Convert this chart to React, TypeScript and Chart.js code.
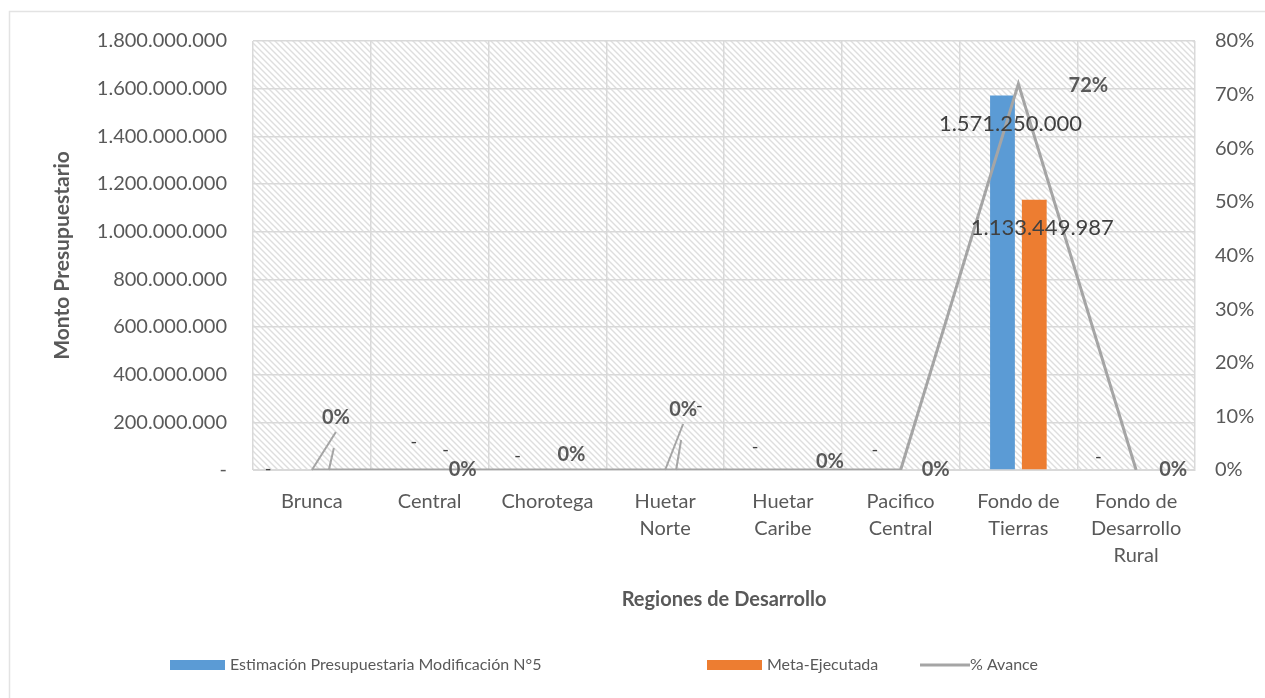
import React, { useEffect, useRef } from "react";
import { Chart, registerables } from "chart.js";

Chart.register(...registerables);

// ---------- data ----------
const categories: string[][] = [
  ["Brunca"],
  ["Central"],
  ["Chorotega"],
  ["Huetar", "Norte"],
  ["Huetar", "Caribe"],
  ["Pacifico", "Central"],
  ["Fondo de", "Tierras"],
  ["Fondo de", "Desarrollo", "Rural"],
];
const estimacion = [0, 0, 0, 0, 0, 0, 1571250000, 0];
const ejecutada = [0, 0, 0, 0, 0, 0, 1133449987, 0];
const avance = [0, 0, 0, 0, 0, 0, 0.72, 0];

const leftTickLabels = [
  "-",
  "200.000.000",
  "400.000.000",
  "600.000.000",
  "800.000.000",
  "1.000.000.000",
  "1.200.000.000",
  "1.400.000.000",
  "1.600.000.000",
  "1.800.000.000",
];
const rightTickLabels = ["0%", "10%", "20%", "30%", "40%", "50%", "60%", "70%", "80%"];

const seriesNames = ["Estimación Presupuestaria Modificación N°5", "Meta-Ejecutada", "% Avance"];
const yTitle = "Monto Presupuestario";
const xTitle = "Regiones de Desarrollo";

// ---------- style ----------
const BLUE = "#5B9BD5";
const ORANGE = "#ED7D31";
const GRAY_LINE = "#A5A5A5";
const TEXT = "#595959";
const LABEL = "#404040";
const GRID = "#D9D9D9";
const FONT = "Lato, 'Open Sans', sans-serif";

// offsets (px) of the % labels from their points, as moved in the original
const pctLabelOffsets: [number, number][] = [
  [24, -52],
  [33, 0],
  [24, -15],
  [18, -60],
  [47, -8],
  [35, 0],
  [70, 2],
  [37, 0],
];
// offsets (px) of the "-" labels of the zero-valued estimate bars
const dashOffsets: [number, number][] = [
  [-28, 5],
  [0, -22],
  [-14, -8],
  [50, -58],
  [-12, -17],
  [-10, -14],
  [0, 0],
  [-22, -7],
];
const legendStartX = [170, 707, 920];

const fmt = (n: number) => String(Math.round(n)).replace(/\B(?=(\d{3})+(?!\d))/g, ".");

export default function App() {
  const ref = useRef<HTMLCanvasElement | null>(null);

  useEffect(() => {
    document.body.style.margin = "0";
    const canvas = ref.current;
    if (!canvas) return;

    // hatch pattern
    const pc = document.createElement("canvas");
    pc.width = 6;
    pc.height = 6;
    const p = pc.getContext("2d")!;
    p.fillStyle = "#ffffff";
    p.fillRect(0, 0, 6, 6);
    p.strokeStyle = "#dedede";
    p.lineWidth = 1.4;
    p.beginPath();
    p.moveTo(-1, -1);
    p.lineTo(7, 7);
    p.moveTo(-4, 2);
    p.lineTo(4, 10);
    p.moveTo(2, -4);
    p.lineTo(10, 4);
    p.stroke();

    const bgPlugin = {
      id: "bgHatch",
      beforeDraw(chart: any) {
        const { ctx, chartArea: a } = chart;
        ctx.save();
        ctx.fillStyle = "#ffffff";
        ctx.fillRect(0, 0, chart.width, chart.height);
        // outer frame
        ctx.strokeStyle = "#e3e3e3";
        ctx.lineWidth = 1.5;
        ctx.beginPath();
        ctx.moveTo(9.5, chart.height);
        ctx.lineTo(9.5, 11.5);
        ctx.lineTo(chart.width, 11.5);
        ctx.stroke();
        const pat = ctx.createPattern(pc, "repeat");
        ctx.fillStyle = pat;
        ctx.fillRect(a.left, a.top, a.right - a.left, a.bottom - a.top);
        ctx.restore();
      },
    };

    const labelPlugin = {
      id: "labels",
      afterDatasetsDraw(chart: any) {
        const { ctx } = chart;
        ctx.save();
        ctx.textAlign = "center";
        ctx.textBaseline = "middle";
        // bar labels
        [1, 2].forEach((di) => {
          const meta = chart.getDatasetMeta(di);
          const data = chart.data.datasets[di].data as number[];
          meta.data.forEach((bar: any, i: number) => {
            const v = data[i];
            if (v > 0) {
              ctx.font = `22px ${FONT}`;
              ctx.fillStyle = LABEL;
              ctx.fillText(fmt(v), bar.x + 8, bar.y + 28);
            } else if (di === 1) {
              const [dx, dy] = dashOffsets[i];
              ctx.font = `18px ${FONT}`;
              ctx.fillStyle = LABEL;
              ctx.fillText("-", bar.x + dx, bar.y + dy - 6);
            } else if (i === 1) {
              ctx.font = `18px ${FONT}`;
              ctx.fillStyle = LABEL;
              ctx.fillText("-", bar.x, bar.y - 20);
            }
          });
        });
        // percent labels + leader lines
        const lm = chart.getDatasetMeta(0);
        ctx.strokeStyle = GRAY_LINE;
        ctx.lineWidth = 2;
        lm.data.forEach((pt: any, i: number) => {
          const [dx, dy] = pctLabelOffsets[i];
          const lx = pt.x + dx;
          const ly = pt.y + dy;
          if (dy < -30) {
            ctx.beginPath();
            ctx.moveTo(pt.x, pt.y);
            ctx.lineTo(lx, ly + 14);
            ctx.moveTo(lx - 7, pt.y);
            ctx.lineTo(lx - 2, ly + 30);
            ctx.stroke();
          }
          ctx.font = `bold 20px ${FONT}`;
          ctx.fillStyle = "#595959";
          ctx.fillText(`${Math.round((avance[i] as number) * 100)}%`, lx, ly);
        });
        ctx.restore();
      },
      afterDraw(chart: any) {
        const { ctx } = chart;
        const y = 665;
        ctx.save();
        ctx.font = `16px ${FONT}`;
        ctx.textBaseline = "middle";
        ctx.textAlign = "left";
        ctx.fillStyle = BLUE;
        ctx.fillRect(legendStartX[0], y - 5, 55, 10);
        ctx.fillStyle = TEXT;
        ctx.fillText(seriesNames[0], legendStartX[0] + 60, y);
        ctx.fillStyle = ORANGE;
        ctx.fillRect(legendStartX[1], y - 5, 55, 10);
        ctx.fillStyle = TEXT;
        ctx.fillText(seriesNames[1], legendStartX[1] + 60, y);
        ctx.strokeStyle = GRAY_LINE;
        ctx.lineWidth = 3;
        ctx.beginPath();
        ctx.moveTo(legendStartX[2], y);
        ctx.lineTo(legendStartX[2] + 50, y);
        ctx.stroke();
        ctx.fillText(seriesNames[2], legendStartX[2] + 50, y);
        ctx.restore();
      },
    };

    const chart = new Chart(canvas, {
      type: "bar",
      data: {
        labels: categories,
        datasets: [
          {
            type: "line",
            label: seriesNames[2],
            data: avance,
            yAxisID: "y1",
            borderColor: GRAY_LINE,
            borderWidth: 3,
            pointRadius: 0,
            tension: 0,
            order: 0,
          } as any,
          {
            type: "bar",
            label: seriesNames[0],
            data: estimacion,
            yAxisID: "y",
            backgroundColor: BLUE,
            categoryPercentage: 0.54,
            barPercentage: 0.78,
            order: 1,
          },
          {
            type: "bar",
            label: seriesNames[1],
            data: ejecutada,
            yAxisID: "y",
            backgroundColor: ORANGE,
            categoryPercentage: 0.54,
            barPercentage: 0.78,
            order: 1,
          },
        ],
      },
      options: {
        responsive: false,
        animation: false,
        layout: { padding: { top: 41, left: 0, right: 0, bottom: 0 } },
        plugins: {
          legend: { display: false },
          tooltip: { enabled: false },
        },
        scales: {
          x: {
            offset: true,
            grid: { color: GRID, offset: true, drawTicks: false, lineWidth: 1.5 },
            border: { color: GRID },
            ticks: {
              color: TEXT,
              font: { family: FONT, size: 20, lineHeight: 1.35 },
              padding: 18,
              maxRotation: 0,
              autoSkip: false,
            },
            title: {
              display: true,
              text: xTitle,
              color: TEXT,
              font: { family: FONT, size: 20, weight: "bold" },
              padding: { top: 0, bottom: 86 },
            },
            afterFit(scale: any) {
              scale.height = 228;
            },
          },
          y: {
            position: "left",
            min: 0,
            max: 1800000000,
            ticks: {
              stepSize: 200000000,
              color: TEXT,
              font: { family: FONT, size: 20 },
              padding: 26,
              callback: (_v: any, i: number) => leftTickLabels[i],
            },
            grid: { color: GRID, drawTicks: false, lineWidth: 1.5 },
            border: { display: false },
            title: {
              display: true,
              text: yTitle,
              color: TEXT,
              font: { family: FONT, size: 21, weight: "bold" },
              padding: { top: 50, bottom: 0 },
            },
            afterFit(scale: any) {
              scale.width = 253;
            },
          },
          y1: {
            position: "right",
            min: 0,
            max: 0.8,
            ticks: {
              stepSize: 0.1,
              color: TEXT,
              font: { family: FONT, size: 20 },
              padding: 20,
              callback: (_v: any, i: number) => rightTickLabels[i],
            },
            grid: { display: false, drawTicks: false },
            border: { display: false },
            afterFit(scale: any) {
              scale.width = 70;
            },
          },
        },
      },
      plugins: [bgPlugin, labelPlugin],
    } as any);

    return () => chart.destroy();
  }, []);

  return (
    <div style={{ width: 1265, height: 698, position: "relative" }}>
      <canvas ref={ref} width={1265} height={698} style={{ width: 1265, height: 698, display: "block" }} />
    </div>
  );
}
